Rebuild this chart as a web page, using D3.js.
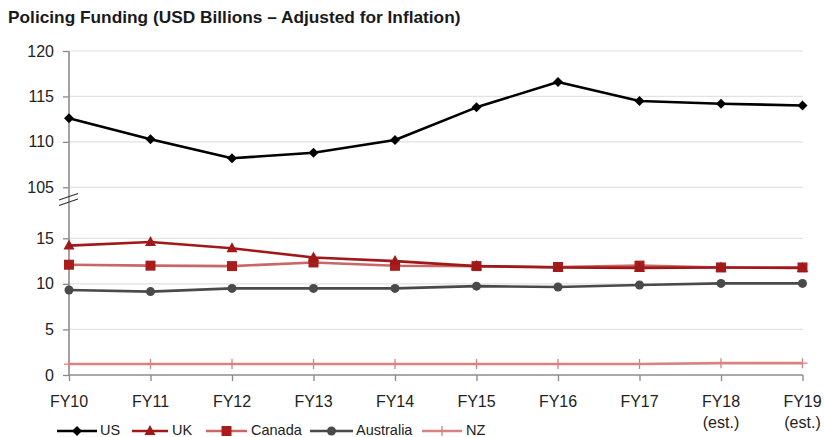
<!DOCTYPE html>
<html><head><meta charset="utf-8">
<script src="https://cdn.jsdelivr.net/npm/d3@7"></script>
<style>body{margin:0;background:#fff}svg{display:block;font-family:"Liberation Sans",Arial,sans-serif}</style>
</head><body><svg id="c" width="824" height="437"></svg>
<script>
const categories = ["FY10","FY11","FY12","FY13","FY14","FY15","FY16","FY17","FY18","FY19"];
const categoryLabels = [["FY10"],["FY11"],["FY12"],["FY13"],["FY14"],["FY15"],["FY16"],["FY17"],["FY18","(est.)"],["FY19","(est.)"]];
const us = [112.6,110.3,108.2,108.8,110.2,113.8,116.6,114.5,114.2,114.0];
const uk = [14.2,14.6,13.9,12.9,12.5,11.95,11.8,11.75,11.8,11.75];
const canada = [12.1,12.0,11.95,12.35,11.98,11.95,11.85,12.0,11.8,11.8];
const australia = [9.33,9.15,9.5,9.5,9.5,9.75,9.65,9.87,10.05,10.05];
const nz = [1.2,1.2,1.2,1.2,1.2,1.2,1.2,1.2,1.3,1.3];
const upperTicks = [105,110,115,120];
const lowerTicks = [0,5,10,15];
const title = "Policing Funding (USD Billions \u2013 Adjusted for Inflation)";

const series = [
  {name:"US", values:us, line:"#000000", marker:"#000000", shape:"diamond"},
  {name:"UK", values:uk, line:"#a01818", marker:"#a01818", shape:"triangle"},
  {name:"Canada", values:canada, line:"#c96666", marker:"#a81c1c", shape:"square"},
  {name:"Australia", values:australia, line:"#4a4a4a", marker:"#4a4a4a", shape:"circle"},
  {name:"NZ", values:nz, line:"#d98282", marker:"#d98282", shape:"plus"}
];

const svg = d3.select("#c");
const x = d3.scalePoint().domain(categories).range([69, 802.5]);
const yU = d3.scaleLinear().domain([105,120]).range([187.3,51]);
const yL = d3.scaleLinear().domain([0,15]).range([375,238.3]);
const y = v => v >= 100 ? yU(v) : yL(v);

svg.append("text").attr("x",8).attr("y",23).attr("font-weight","bold").attr("font-size",17.3)
  .attr("fill","#1a1a1a").text(title);

// gridlines
const grid = svg.append("g");
upperTicks.forEach(t=>grid.append("line").attr("x1",69).attr("x2",803).attr("y1",yU(t)).attr("y2",yU(t)).attr("stroke","#e2e2e2").attr("stroke-width",1.2));
lowerTicks.filter(t=>t>0).forEach(t=>grid.append("line").attr("x1",69).attr("x2",803).attr("y1",yL(t)).attr("y2",yL(t)).attr("stroke","#e2e2e2").attr("stroke-width",1.2));

// y axes
const axU = svg.append("g").attr("transform","translate(69,0)").call(d3.axisLeft(yU).tickValues(upperTicks).tickSize(6).tickPadding(9));
const axL = svg.append("g").attr("transform","translate(69,0)").call(d3.axisLeft(yL).tickValues(lowerTicks).tickSize(6).tickPadding(9));
[axU,axL].forEach(a=>{
  a.select(".domain").remove();
  a.selectAll(".tick line").attr("stroke","#888").attr("stroke-width",1.3);
  a.selectAll(".tick text").attr("font-size",16).attr("fill","#222").attr("font-family","Liberation Sans, Arial, sans-serif");
});
svg.append("line").attr("x1",69).attr("x2",69).attr("y1",yU(120)).attr("y2",yL(0)).attr("stroke","#8c8c8c").attr("stroke-width",1.6);

// x axis
const ax = svg.append("g").attr("transform",`translate(0,${yL(0)})`).call(d3.axisBottom(x).tickSize(6).tickFormat(""));
ax.select(".domain").attr("stroke","#8c8c8c").attr("stroke-width",1.6).attr("d",`M69,0H803`);
ax.selectAll(".tick line").attr("stroke","#888").attr("stroke-width",1.3);
categories.forEach((c,i)=>{
  const t = svg.append("text").attr("x",x(c)).attr("y",yL(0)+32).attr("text-anchor","middle")
    .attr("font-size",16).attr("fill","#222");
  categoryLabels[i].forEach((s,j)=>t.append("tspan").attr("x",x(c)).attr("dy",j?21:0).text(s));
});

// axis break marks
const brk = svg.append("g").attr("stroke","#333").attr("stroke-width",1.3);
brk.append("line").attr("x1",59).attr("y1",200).attr("x2",78).attr("y2",193.5);
brk.append("line").attr("x1",59).attr("y1",205.5).attr("x2",78).attr("y2",199);

function marker(g, shape, color, cx, cy){
  if(shape==="diamond") g.append("path").attr("d",`M${cx},${cy-5}L${cx+5},${cy}L${cx},${cy+5}L${cx-5},${cy}Z`).attr("fill",color);
  else if(shape==="triangle") g.append("path").attr("d",`M${cx},${cy-6}L${cx+5.5},${cy+4}L${cx-5.5},${cy+4}Z`).attr("fill",color);
  else if(shape==="square") g.append("rect").attr("x",cx-5).attr("y",cy-5).attr("width",10).attr("height",10).attr("fill",color);
  else if(shape==="circle") g.append("circle").attr("cx",cx).attr("cy",cy).attr("r",4.5).attr("fill",color);
  else if(shape==="plus") g.append("path").attr("d",`M${cx-5},${cy}H${cx+5}M${cx},${cy-5}V${cy+5}`).attr("stroke",color).attr("stroke-width",1.3);
}

const line = d3.line().x((d,i)=>x(categories[i])).y(d=>y(d));
[...series].reverse().forEach(s=>{
  const g = svg.append("g");
  g.append("path").datum(s.values).attr("d",line).attr("fill","none").attr("stroke",s.line).attr("stroke-width",2.6).attr("stroke-linejoin","round");
  s.values.forEach((v,i)=>marker(g,s.shape,s.marker,x(categories[i]),y(v)));
});

// legend
const legendPos = [[57,97,100],[132,168,172],[206,247,251],[310,353,356],[422,462,466]];
series.forEach((s,i)=>{
  const [a,b,tx] = legendPos[i];
  const g = svg.append("g");
  const ly = 431;
  g.append("line").attr("x1",a).attr("x2",b).attr("y1",ly).attr("y2",ly).attr("stroke",s.line).attr("stroke-width",2.6);
  marker(g,s.shape,s.marker,(a+b)/2,ly);
  g.append("text").attr("x",tx).attr("y",ly).attr("dominant-baseline","middle").attr("font-size",14.5).attr("fill","#222").text(s.name);
});
</script></body></html>
